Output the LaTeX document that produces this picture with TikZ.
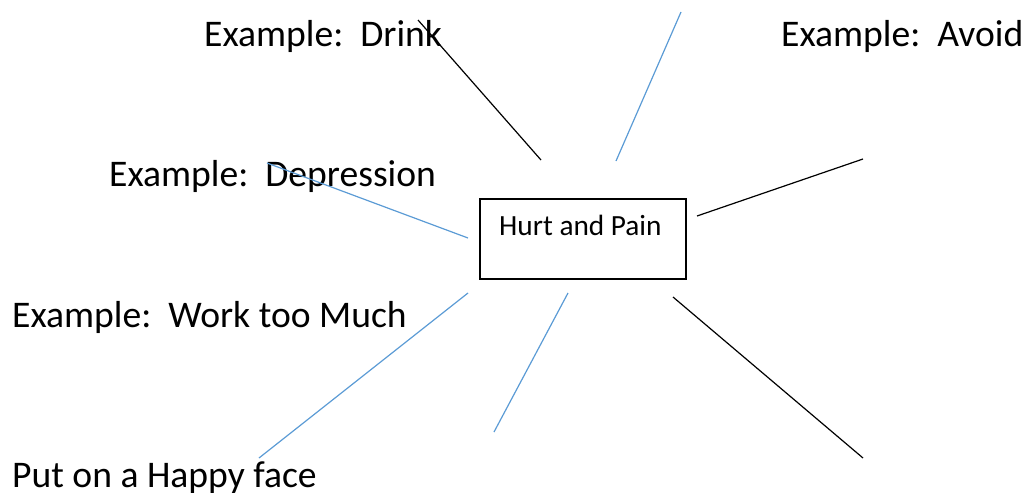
\documentclass[tikz,border=0pt]{standalone}
\usepackage{fontspec}
\setmainfont{Carlito}
\definecolor{lineblue}{RGB}{91,155,213}
\tikzset{
  bigtext/.style={anchor=base west, inner sep=0pt, font=\fontsize{37.6}{45}\selectfont},
  smalltext/.style={anchor=base west, inner sep=0pt, font=\fontsize{29.3}{35}\selectfont},
  boxstyle/.style={draw=black, line width=2pt, rectangle, anchor=north west, inner sep=0pt, minimum width=206pt, minimum height=80pt},
  blueline/.style={draw=lineblue, line width=1.2pt},
  blackline/.style={draw=black, line width=1.2pt},
}
\begin{document}
\begin{tikzpicture}[x=1pt,y=-1pt]
\useasboundingbox (0,0) rectangle (1029,493);
% central box
\node[boxstyle] (box) at (479,198) {};
\node[smalltext] (hp) at (499,235) {Hurt and Pain};
% labels
\node[bigtext] (drink) at (204,46) {Example:\ \ Drink};
\node[bigtext] (avoid) at (781,46) {Example:\ \ Avoid};
\node[bigtext] (depr) at (109,186) {Example:\ \ Depression};
\node[bigtext] (work) at (12,327) {Example:\ \ Work too Much};
\node[bigtext] (happy) at (12,487) {Put on a Happy face};
% connector end points
\coordinate (a1) at (418,20);  \coordinate (a2) at (541,160);
\coordinate (b1) at (681,12);  \coordinate (b2) at (616,161);
\coordinate (c1) at (267,163); \coordinate (c2) at (468,238);
\coordinate (d1) at (468,293); \coordinate (d2) at (259,458);
\coordinate (e1) at (568,293); \coordinate (e2) at (494,432);
\coordinate (f1) at (697,216); \coordinate (f2) at (863,159);
\coordinate (g1) at (673,297); \coordinate (g2) at (863,458);
% connectors
\draw[blackline] (a1) -- (a2);
\draw[blueline] (b1) -- (b2);
\draw[blueline] (c1) -- (c2);
\draw[blueline] (d1) -- (d2);
\draw[blueline] (e1) -- (e2);
\draw[blackline] (f1) -- (f2);
\draw[blackline] (g1) -- (g2);
\end{tikzpicture}
\end{document}
